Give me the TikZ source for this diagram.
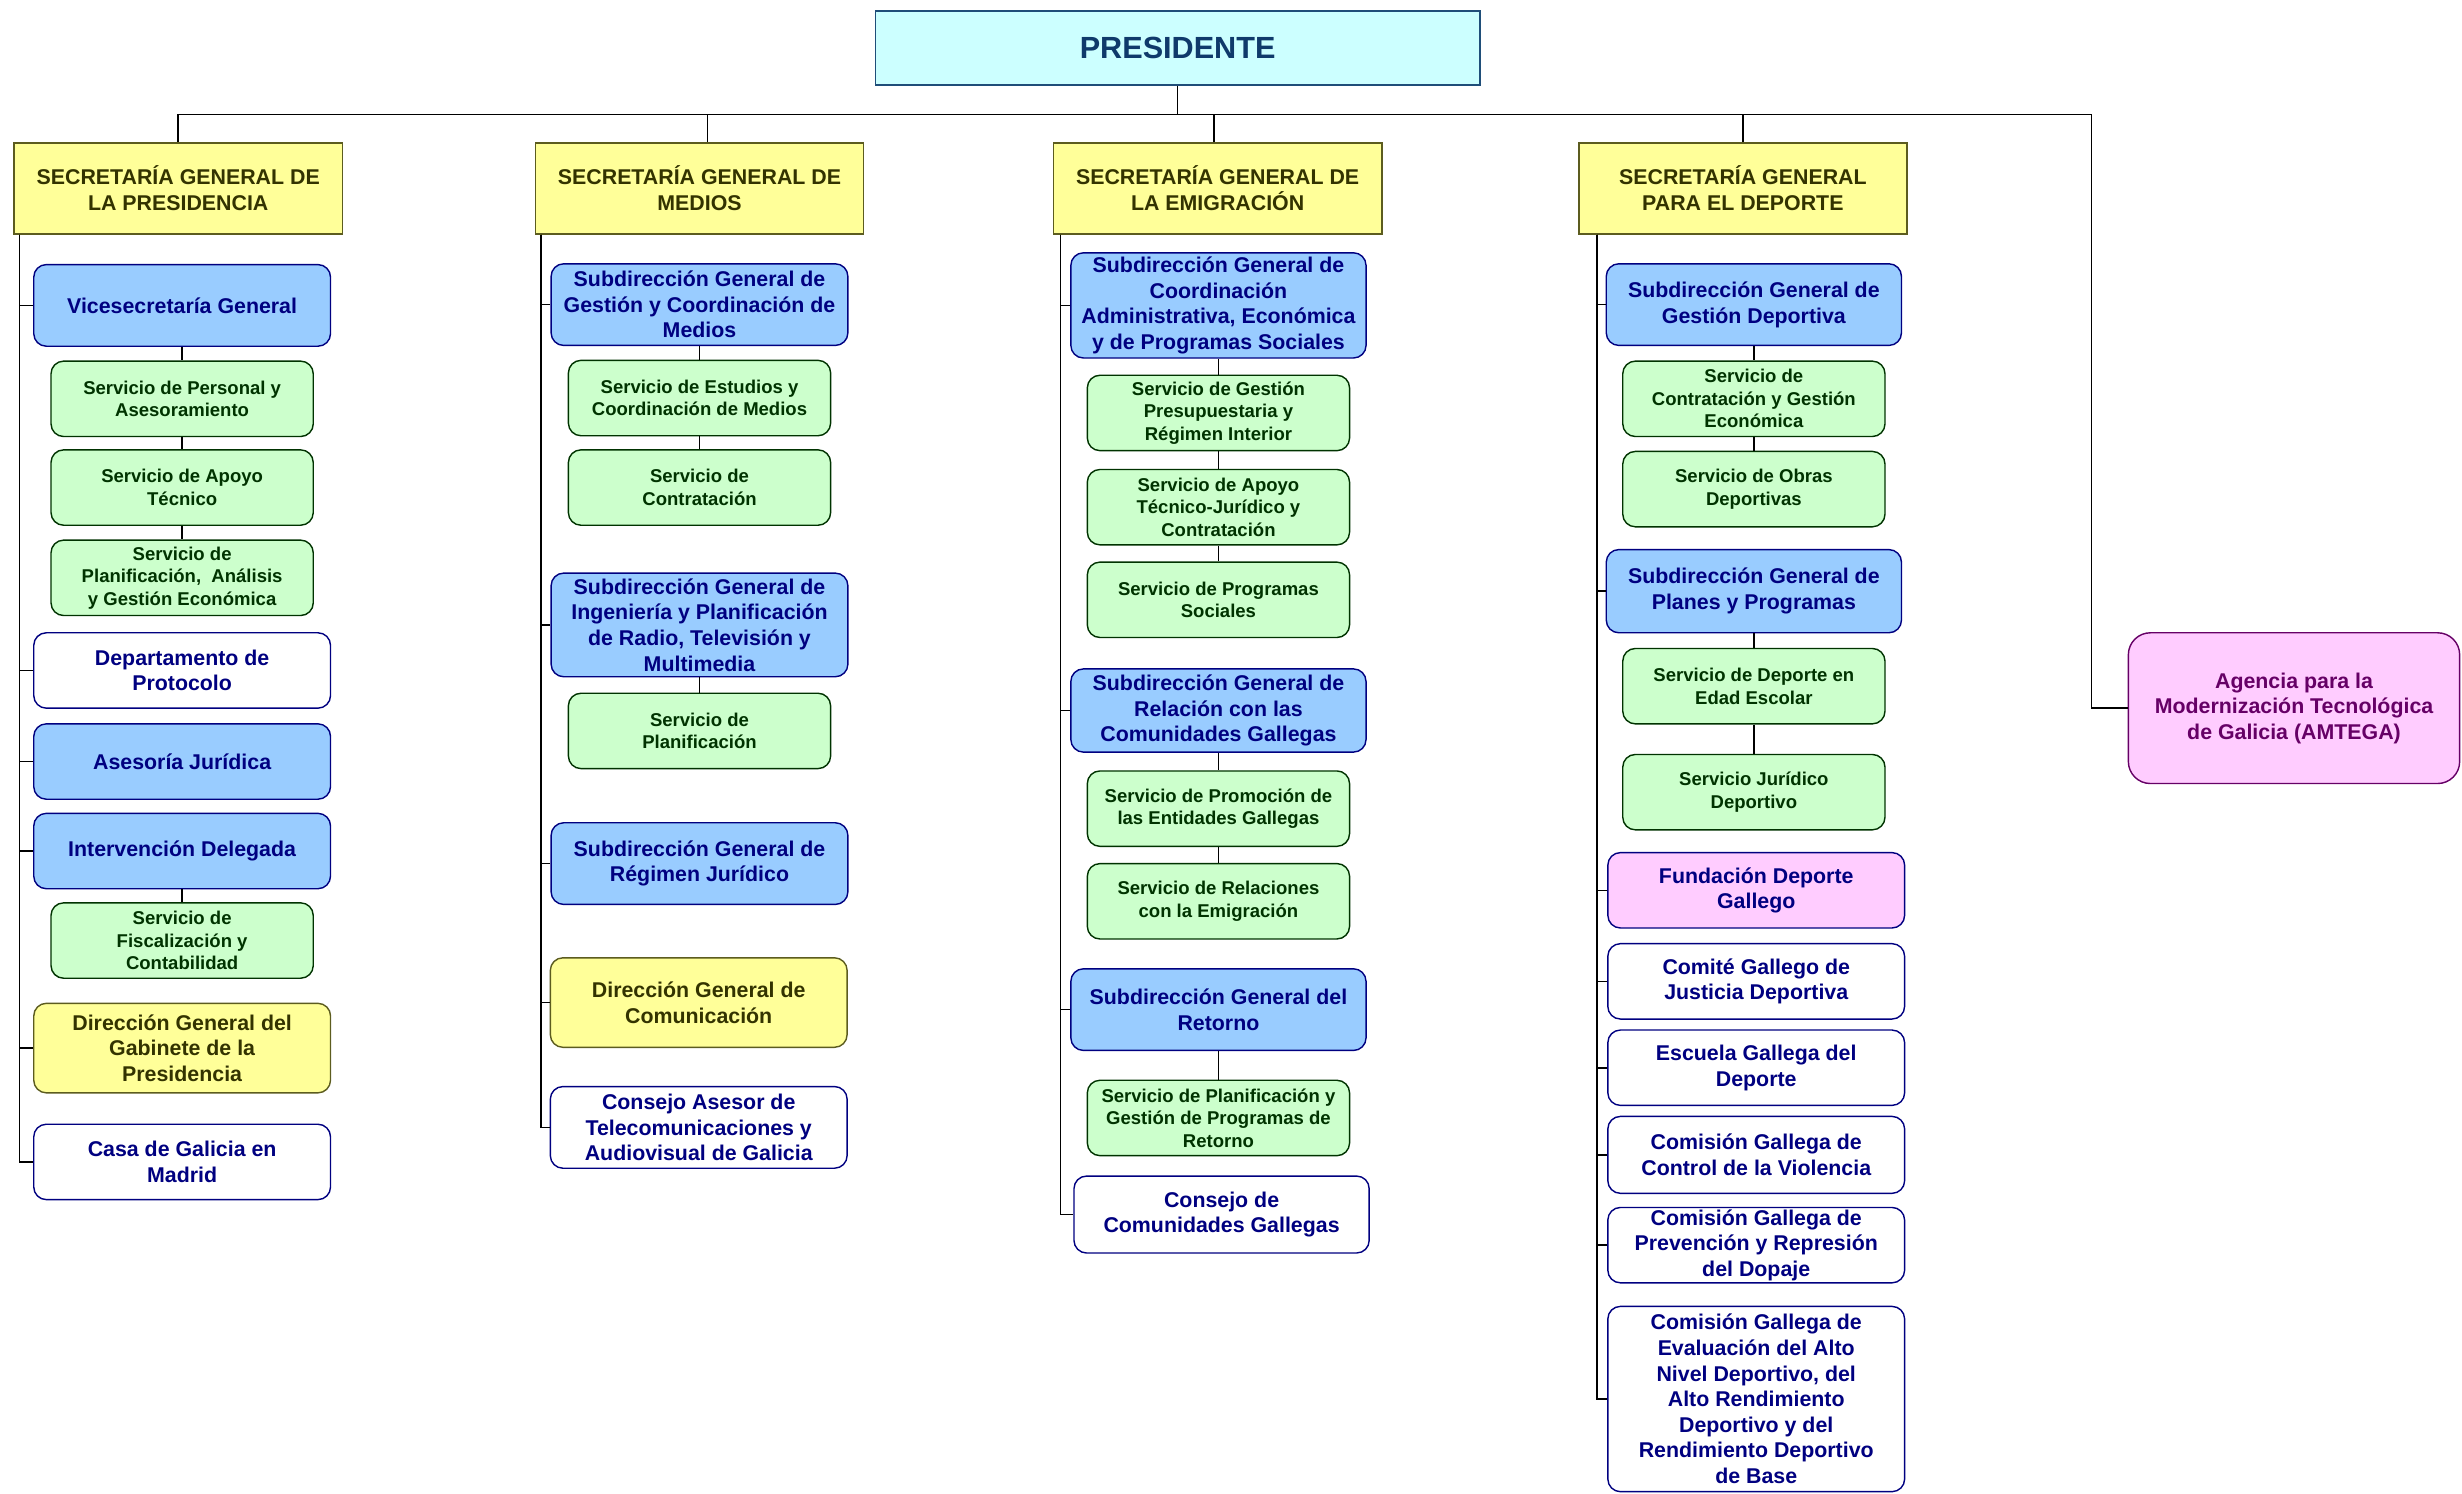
\documentclass[tikz,border=0pt]{standalone}
\usepackage{fontspec}
\setmainfont{Liberation Sans}

\definecolor{presfill}{HTML}{CCFFFF}
\definecolor{presdraw}{HTML}{1F4E79}
\definecolor{prestext}{HTML}{0F3A6B}
\definecolor{secfill}{HTML}{FFFF99}
\definecolor{secdraw}{HTML}{5C5C1F}
\definecolor{sectext}{HTML}{333300}
\definecolor{subfill}{HTML}{99CCFF}
\definecolor{navy}{HTML}{000080}
\definecolor{servfill}{HTML}{CCFFCC}
\definecolor{servtext}{HTML}{003300}
\definecolor{pinkfill}{HTML}{FFCCFF}
\definecolor{amtcol}{HTML}{660066}

\begin{document}
\begin{tikzpicture}[x=1pt,y=-1pt,
        every node/.style={align=center,inner sep=1pt},
        txt/.style={font=\bfseries\fontsize{13.6}{16.3}\selectfont},
        stxt/.style={font=\bfseries\fontsize{11.8}{14.3}\selectfont},
        box/.style={draw,rounded corners=8pt,line width=0.9pt},
        pres/.style={draw=presdraw,fill=presfill,text=prestext,line width=1pt,
            minimum width=385pt,minimum height=47pt,
            font=\bfseries\fontsize{19.5}{23}\selectfont},
        sec/.style={draw=secdraw,fill=secfill,text=sectext,line width=1pt,
            minimum width=209pt,minimum height=58pt,txt},
        sub/.style={box,draw=navy,fill=subfill,text=navy,
            minimum width=189pt,minimum height=52pt,txt},
        serv/.style={box,draw=servtext,fill=servfill,text=servtext,
            minimum width=167pt,minimum height=48pt,stxt},
        unit/.style={box,draw=navy,fill=white,text=navy,
            minimum width=189pt,minimum height=48pt,txt},
        dgen/.style={box,draw=secdraw,fill=secfill,text=sectext,
            minimum width=189pt,minimum height=57pt,txt},
        fund/.style={box,draw=navy,fill=pinkfill,text=navy,
            minimum width=189pt,minimum height=48pt,txt},
        link/.style={line width=1pt}]

\useasboundingbox (0,0) rectangle (1568,951);

\node[pres] (pres) at (750,30.5) {PRESIDENTE};

\node[sec] (sgp) at (113.5,120) {SECRETARÍA GENERAL DE\\LA PRESIDENCIA};
\node[sec] (sgm) at (445.5,120) {SECRETARÍA GENERAL DE\\MEDIOS};
\node[sec] (sge) at (775.5,120) {SECRETARÍA GENERAL DE\\LA EMIGRACIÓN};
\node[sec] (sgd) at (1110,120) {SECRETARÍA GENERAL\\PARA EL DEPORTE};

\node[box,draw=amtcol,fill=pinkfill,text=amtcol,rounded corners=14pt,
    minimum width=211pt,minimum height=96pt,txt] (amtega) at (1461,451)
    {Agencia para la\\Modernización Tecnológica\\de Galicia (AMTEGA)};

% presidencia
\node[sub] (vice) at (116,194.5) {Vicesecretaría General};
\node[serv] (pers) at (116,254) {Servicio de Personal y\\Asesoramiento};
\node[serv] (apoyo) at (116,310.5) {Servicio de Apoyo\\Técnico};
\node[serv] (planec) at (116,368) {Servicio de\\Planificación,\ \ Análisis\\y Gestión Económica};
\node[unit] (proto) at (116,427) {Departamento de\\Protocolo};
\node[sub,minimum height=48pt] (aseso) at (116,485) {Asesoría Jurídica};
\node[sub,minimum height=48pt] (interv) at (116,542) {Intervención Delegada};
\node[serv] (fisc) at (116,599) {Servicio de\\Fiscalización y\\Contabilidad};
\node[dgen] (gabin) at (116,667.5) {Dirección General del\\Gabinete de la\\Presidencia};
\node[unit] (casa) at (116,740) {Casa de Galicia en\\Madrid};

% medios
\node[sub] (gcm) at (445.5,194) {Subdirección General de\\Gestión y Coordinación de\\Medios};
\node[serv] (estud) at (445.5,253.5) {Servicio de Estudios y\\Coordinación de Medios};
\node[serv] (contr) at (445.5,310.5) {Servicio de\\Contratación};
\node[sub,minimum height=66pt] (ingen) at (445.5,398) {Subdirección General de\\Ingeniería y Planificación\\de Radio, Televisión y\\Multimedia};
\node[serv] (planif) at (445.5,465.5) {Servicio de\\Planificación};
\node[sub] (regim) at (445.5,550) {Subdirección General de\\Régimen Jurídico};
\node[dgen] (comun) at (445,638.5) {Dirección General de\\Comunicación};
\node[unit,minimum height=52pt] (cate) at (445,718) {Consejo Asesor de\\Telecomunicaciones y\\Audiovisual de Galicia};

% emigracion
\node[sub,minimum width=188pt,minimum height=67pt] (coord) at (776,194.5) {Subdirección General de\\Coordinación\\Administrativa, Económica\\y de Programas Sociales};
\node[serv] (presup) at (776,263) {Servicio de Gestión\\Presupuestaria y\\Régimen Interior};
\node[serv] (apotj) at (776,323) {Servicio de Apoyo\\Técnico-Jurídico y\\Contratación};
\node[serv] (progs) at (776,382) {Servicio de Programas\\Sociales};
\node[sub,minimum width=188pt,minimum height=53pt] (relac) at (776,452.5) {Subdirección General de\\Relación con las\\Comunidades Gallegas};
\node[serv] (promo) at (776,515) {Servicio de Promoción de\\las Entidades Gallegas};
\node[serv] (relem) at (776,574) {Servicio de Relaciones\\con la Emigración};
\node[sub,minimum width=188pt] (retor) at (776,643) {Subdirección General del\\Retorno};
\node[serv] (planr) at (776,712) {Servicio de Planificación y\\Gestión de Programas de\\Retorno};
\node[unit,minimum width=188pt,minimum height=49pt] (ccg) at (778,773.5) {Consejo de\\Comunidades Gallegas};

% deporte
\node[sub,minimum width=188pt] (gdep) at (1117,194) {Subdirección General de\\Gestión Deportiva};
\node[serv] (cge) at (1117,254) {Servicio de\\Contratación y Gestión\\Económica};
\node[serv] (obras) at (1117,311.5) {Servicio de Obras\\Deportivas};
\node[sub,minimum width=188pt,minimum height=53pt] (planes) at (1117,376.5) {Subdirección General de\\Planes y Programas};
\node[serv] (escol) at (1117,437) {Servicio de Deporte en\\Edad Escolar};
\node[serv] (jurd) at (1117,504.5) {Servicio Jurídico\\Deportivo};
\node[fund] (fdg) at (1118.5,567) {Fundación Deporte\\Gallego};
\node[unit] (cgjd) at (1118.5,625) {Comité Gallego de\\Justicia Deportiva};
\node[unit] (egd) at (1118.5,680) {Escuela Gallega del\\Deporte};
\node[unit,minimum height=49pt] (viol) at (1118.5,735.5) {Comisión Gallega de\\Control de la Violencia};
\node[unit] (dopa) at (1118.5,793) {Comisión Gallega de\\Prevención y Represión\\del Dopaje};
\node[unit,minimum height=118pt] (evalu) at (1118.5,891) {Comisión Gallega de\\Evaluación del Alto\\Nivel Deportivo, del\\Alto Rendimiento\\Deportivo y del\\Rendimiento Deportivo\\de Base};

% top level
\coordinate (bus) at (750,73);
\coordinate (bend) at (1332,73);
\draw[link] (pres) -- (bus);
\draw[link] (sgp.north) |- (bus);
\draw[link] ([xshift=5pt]sgm.north) |- (bus);
\draw[link] ([xshift=-2.5pt]sge.north) |- (bus);
\draw[link] (sgd.north) |- (bus);
\draw[link] (bus) -- (bend) |- (amtega.west);

% trunks
\coordinate (tp) at ([xshift=4pt]sgp.south west);
\coordinate (tm) at ([xshift=4pt]sgm.south west);
\coordinate (te) at ([xshift=5pt]sge.south west);
\coordinate (td) at ([xshift=12pt]sgd.south west);

\draw[link] (tp) |- (vice.west);
\draw[link] (tp) |- (proto.west);
\draw[link] (tp) |- (aseso.west);
\draw[link] (tp) |- (interv.west);
\draw[link] (tp) |- (gabin.west);
\draw[link] (tp) |- (casa.west);

\draw[link] (tm) |- (gcm.west);
\draw[link] (tm) |- (ingen.west);
\draw[link] (tm) |- (regim.west);
\draw[link] (tm) |- (comun.west);
\draw[link] (tm) |- (cate.west);

\draw[link] (te) |- (coord.west);
\draw[link] (te) |- (relac.west);
\draw[link] (te) |- (retor.west);
\draw[link] (te) |- (ccg.west);

\draw[link] (td) |- (gdep.west);
\draw[link] (td) |- (planes.west);
\draw[link] (td) |- (fdg.west);
\draw[link] (td) |- (cgjd.west);
\draw[link] (td) |- (egd.west);
\draw[link] (td) |- (viol.west);
\draw[link] (td) |- (dopa.west);
\draw[link] (td) |- (evalu.west);

% services
\draw[link] (vice) -- (pers);
\draw[link] (pers) -- (apoyo);
\draw[link] (apoyo) -- (planec);
\draw[link] (interv) -- (fisc);
\draw[link] (gcm) -- (estud);
\draw[link] (estud) -- (contr);
\draw[link] (ingen) -- (planif);
\draw[link] (coord) -- (presup);
\draw[link] (presup) -- (apotj);
\draw[link] (apotj) -- (progs);
\draw[link] (relac) -- (promo);
\draw[link] (promo) -- (relem);
\draw[link] (retor) -- (planr);
\draw[link] (gdep) -- (cge);
\draw[link] (cge) -- (obras);
\draw[link] (planes) -- (escol);
\draw[link] (escol) -- (jurd);

\end{tikzpicture}
\end{document}
